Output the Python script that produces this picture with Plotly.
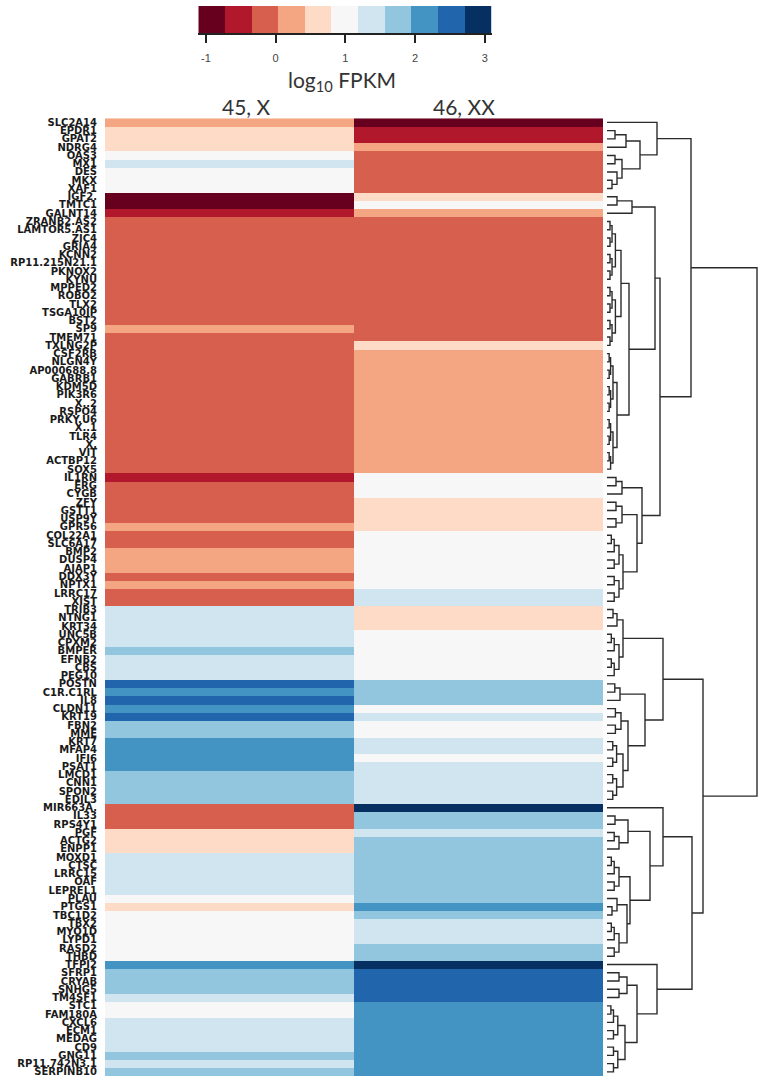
import plotly.graph_objects as go

genes = ["SLC2A14", "EPDR1", "GPAT2", "NDRG4", "OAS3", "MX1", "DES", "MKX", "XAF1", "IGF2.",
         "TMTC1", "GALNT14", "ZRANB2.AS2", "LAMTOR5.AS1", "ZIC4", "GRIA4", "KCNN2", "RP11.215N21.1", "PKNOX2", "KYNU",
         "MPPED2", "ROBO2", "TLX2", "TSGA10IP", "BST2", "SP9", "TMEM71", "TXLNG2P", "CSF2RB", "NLGN4Y",
         "AP000688.8", "GABRB1", "KDM5D", "PIK3R6", "X..2", "RSPO4", "PRKY.U6", "X..1", "TLR4", "X.",
         "VIT", "ACTBP12", "SOX5", "IL1RN", "ERG", "CYGB", "ZFY", "GSTT1", "USP9Y", "GPR56",
         "COL22A1", "SLC6A17", "BMP2", "DUSP4", "AJAP1", "DDX3Y", "NPTX1", "LRRC17", "XIST", "TRIB3",
         "NTNG1", "KRT34", "UNC5B", "CPXM2", "BMPER", "EFNB2", "CBS", "PEG10", "POSTN", "C1R.C1RL",
         "IL8", "CLDN11", "KRT19", "FBN2", "MME", "KRT7", "MFAP4", "IFI6", "PSAT1", "LMCD1",
         "CNN1", "SPON2", "EDIL3", "MIR663A.", "IL33", "RPS4Y1", "PGF", "ACTG2", "ENPP1", "MOXD1",
         "CTSC", "LRRC15", "OAF", "LEPREL1", "PLAU", "PTGS1", "TBC1D2", "TBX2", "MYO1D", "LYPD1",
         "RASD2", "THBD", "TFPI2", "SFRP1", "CRYAB", "SNHG5", "TM4SF1", "STC1", "FAM180A", "CXCL6",
         "ECM1", "MEDAG", "CD9", "GNG11", "RP11.742N3.1", "SERPINB10"]

columns = ["45, X", "46, XX"]

# log10 FPKM, sample 45,X
fpkm_45X = [0.22, 0.60, 0.62, 0.58, 1.00, 1.38, 0.98, 1.02, 1.00, -0.95,
            -1.11, -0.55, -0.15, -0.12, -0.18, -0.15, -0.10, -0.16, -0.14, -0.20,
            -0.13, -0.15, -0.17, -0.12, -0.15, 0.20, -0.15, -0.14, -0.15, -0.18,
            -0.12, -0.16, -0.14, -0.10, -0.15, -0.19, -0.13, -0.15, -0.17, -0.11,
            -0.16, -0.14, -0.15, -0.55, -0.15, -0.18, -0.12, -0.16, -0.14, 0.24,
            -0.15, -0.12, 0.22, 0.25, 0.20, -0.16, 0.23, -0.14, -0.17, 1.38,
            1.36, 1.40, 1.35, 1.38, 1.75, 1.38, 1.40, 1.36, 2.52, 2.14,
            2.50, 2.12, 2.55, 1.76, 1.78, 2.14, 2.10, 2.16, 2.12, 1.75,
            1.78, 1.74, 1.76, -0.15, -0.12, -0.16, 0.60, 0.62, 0.58, 1.38,
            1.36, 1.40, 1.38, 1.35, 1.00, 0.61, 0.98, 1.00, 1.02, 0.99,
            1.01, 0.98, 2.14, 1.76, 1.74, 1.78, 1.38, 1.00, 0.98, 1.38,
            1.36, 1.40, 1.38, 1.76, 1.38, 1.75]

# log10 FPKM, sample 46,XX
fpkm_46XX = [-0.95, -0.55, -0.52, 0.22, -0.15, -0.18, -0.12, -0.15, -0.16, 0.60,
             1.00, 0.24, -0.15, -0.14, -0.16, -0.12, -0.18, -0.15, -0.13, -0.17,
             -0.15, -0.14, -0.16, -0.15, -0.12, -0.18, -0.15, 0.60, 0.22, 0.25,
             0.20, 0.23, 0.24, 0.21, 0.22, 0.26, 0.20, 0.23, 0.22, 0.25,
             0.21, 0.24, 0.22, 1.00, 0.98, 1.02, 0.60, 0.62, 0.58, 0.61,
             1.00, 0.98, 1.02, 0.99, 1.01, 1.00, 0.97, 1.38, 1.36, 0.60,
             0.62, 0.59, 1.00, 0.98, 1.02, 1.00, 0.99, 1.01, 1.76, 1.74,
             1.78, 1.00, 1.38, 0.98, 1.02, 1.38, 1.36, 1.00, 1.38, 1.40,
             1.36, 1.38, 1.35, 3.10, 1.76, 1.78, 1.38, 1.75, 1.78, 1.74,
             1.76, 1.75, 1.77, 1.76, 1.74, 2.14, 1.76, 1.38, 1.36, 1.40,
             1.76, 1.78, 2.95, 2.52, 2.50, 2.54, 2.52, 2.14, 2.12, 2.16,
             2.14, 2.10, 2.14, 2.15, 2.13, 2.14]

colorbar_ticks = [-1, 0, 1, 2, 3]
colorbar_ticktext = ["-1", "0", "1", "2", "3"]
palette = ["#67001f", "#b2182b", "#d6604d", "#f4a582", "#fddbc7", "#f7f7f7",
           "#d1e5f0", "#92c5de", "#4393c3", "#2166ac", "#053061"]

# row dendrogram: [merge height, left, right]; ["g", first, last, height] = tight group
dendrogram = [150,
  [84,
    [50, 1, [33, [19, [8, 2, 3], 4], [15, [8, 5, 6], [10, 7, [5, 8, 9]]]]],
    [53,
      [48, [25, [10, 10, 11], 12],
           [22, ["g", 13, 28, 14], ["g", 29, 43, 10]]],
      [35, ["g", 44, 46, 15],
           [30, ["g", 47, 50, 15], [16, ["g", 51, 55, 12], ["g", 56, 59, 12]]]]]],
  [96,
    [56, [16, ["g", 60, 62, 10], ["g", 63, 68, 12]],
         [38, ["g", 69, 71, 13], [21, ["g", 72, 75, 14], ["g", 76, 83, 16]]]],
    [85,
      [56, 84, [43, [21, ["g", 85, 86, 8], ["g", 87, 89, 12]],
                    [23, ["g", 90, 94, 12], [20, [10, 95, [5, 96, 97]], ["g", 98, 102, 12]]]]],
      [50, 103, [30, ["g", 104, 107, 20], ["g", 108, 116, 18]]]]]]

n = len(genes)
zmin = min(fpkm_45X + fpkm_46XX)
zmax = max(fpkm_45X + fpkm_46XX)
nb = len(palette)
cscale = []
for i, c in enumerate(palette):
    cscale.append([i / nb, c])
    cscale.append([(i + 1) / nb, c])


def balanced(lo, hi, h):
    if lo == hi:
        return lo
    if hi == lo + 1:
        return [h, lo, hi]
    mid = (lo + hi) // 2
    return [h, balanced(lo, mid, h * 0.6), balanced(mid + 1, hi, h * 0.6)]


dx, dy = [], []


def build(node):
    if isinstance(node, int):
        return node - 1, 0.0
    if node[0] == "g":
        return build(balanced(node[1], node[2], node[3]))
    h, a, b = node
    ya, ha = build(a)
    yb, hb = build(b)
    dx.extend([ha, h, h, hb, None])
    dy.extend([ya, ya, yb, yb, None])
    return (ya + yb) / 2, h


build(dendrogram)

W, H = 761, 1082
fig = go.Figure()
fig.add_trace(go.Heatmap(
    z=[[a, b] for a, b in zip(fpkm_45X, fpkm_46XX)], x=[0, 1], y=list(range(n)),
    colorscale=cscale, zmin=zmin, zmax=zmax, showscale=False, xaxis="x", yaxis="y",
    hoverinfo="skip"))
fig.add_trace(go.Scatter(x=dx, y=dy, mode="lines", xaxis="x2", yaxis="y",
                         line=dict(color="#2b2b2b", width=1.4), hoverinfo="skip",
                         showlegend=False))
# colour key
step = (zmax - zmin) / nb
edges = [zmin + i * step for i in range(nb + 1)]
centers = [zmin + (i + 0.5) * step for i in range(nb)]
fig.add_trace(go.Heatmap(z=[centers], x=edges, y=[0, 1], colorscale=cscale, zmin=zmin,
                         zmax=zmax, showscale=False, xaxis="x3", yaxis="y3", hoverinfo="skip"))

hdr_font = dict(family="Lato", size=21, color="#333")
fig.update_layout(
    width=W, height=H, margin=dict(l=0, r=0, t=0, b=0),
    paper_bgcolor="white", plot_bgcolor="white", showlegend=False,
    xaxis=dict(domain=[105 / W, 603 / W], range=[-0.5, 1.5], showticklabels=False,
               showgrid=False, zeroline=False, showline=False, anchor="y", fixedrange=True),
    yaxis=dict(domain=[5 / H, 1 - 117.5 / H], range=[n - 0.5, -0.5], tickmode="array",
               tickvals=list(range(n)), ticktext=genes, showgrid=False, zeroline=False,
               ticks="", ticklabelstandoff=7,
               tickfont=dict(family="DejaVu Sans", size=10, color="#1a1a1a", weight="bold"),
               anchor="x"),
    xaxis2=dict(domain=[607 / W, 758 / W], range=[0, 151], visible=False, anchor="y"),
    xaxis3=dict(domain=[198.3 / W, 491.7 / W], range=[zmin, zmax], anchor="y3",
                tickmode="array", tickvals=colorbar_ticks, ticktext=colorbar_ticktext,
                ticks="outside", ticklen=8,
                tickwidth=1.5, tickcolor="#222", showline=True, linecolor="#222", linewidth=1.5,
                showgrid=False, zeroline=False, ticklabelstandoff=6,
                tickfont=dict(family="Liberation Sans", size=11, color="#444")),
    yaxis3=dict(domain=[1 - 32 / H, 1 - 5 / H], range=[0, 1], visible=False, anchor="x3"),
    annotations=[
        dict(text="log<sub>10</sub> FPKM", xref="paper", yref="paper", x=342 / W, y=1 - 80 / H,
             xanchor="center", yanchor="middle", showarrow=False, font=hdr_font),
        dict(text=columns[0], xref="paper", yref="paper", x=246 / W, y=1 - 106 / H,
             xanchor="center", yanchor="middle", showarrow=False, font=hdr_font),
        dict(text=columns[1], xref="paper", yref="paper", x=464 / W, y=1 - 106 / H,
             xanchor="center", yanchor="middle", showarrow=False, font=hdr_font),
    ],
)

fig.write_html("out.html", config={"displayModeBar": False},
               post_script="document.body.style.margin='0';")
